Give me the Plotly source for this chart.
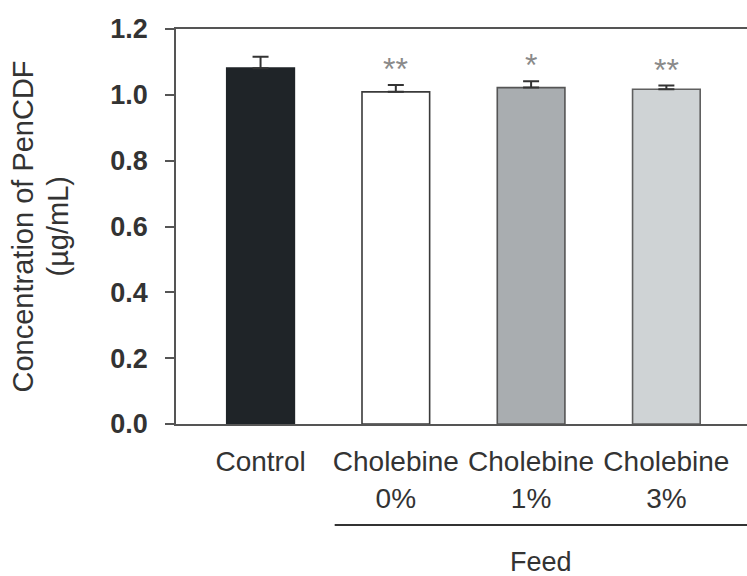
import plotly.graph_objects as go

categories = ["Control", "Cholebine<br>0%", "Cholebine<br>1%", "Cholebine<br>3%"]
means = [1.081, 1.009, 1.022, 1.017]
errors = [0.035, 0.021, 0.019, 0.011]
stars = ["", "**", "*", "**"]
fill_colors = ["#1f2428", "#ffffff", "#a9adb0", "#cfd3d5"]
line_colors = ["#1f2428", "#3a3a3a", "#555555", "#5f5f5f"]
y_ticks = [0.0, 0.2, 0.4, 0.6, 0.8, 1.0, 1.2]

FONT = "Arial, Liberation Sans, sans-serif"
TXT = "#333333"

fig = go.Figure()
fig.add_trace(go.Bar(
    x=list(range(len(categories))),
    y=means,
    width=0.5,
    marker=dict(color=fill_colors, line=dict(color=line_colors, width=1.6)),
    error_y=dict(type="data", array=errors, arrayminus=[0] * len(errors),
                 symmetric=False, color="#333333", thickness=2, width=8),
    showlegend=False,
))

for i, (m, e, s) in enumerate(zip(means, errors, stars)):
    if s:
        fig.add_annotation(x=i, y=m + e, yref="y", xref="x", text=s,
                           showarrow=False, yanchor="bottom", yshift=-4,
                           font=dict(family=FONT, size=32, color="#8a8a8a"))

fig.update_layout(
    width=747, height=576,
    margin=dict(l=176, r=0, t=29, b=152),
    paper_bgcolor="white", plot_bgcolor="white",
    font=dict(family=FONT, color=TXT),
)

fig.update_xaxes(
    range=[-0.625, 3.596],
    tickmode="array", tickvals=list(range(len(categories))), ticktext=categories,
    tickfont=dict(family=FONT, size=28, color=TXT),
    showline=True, linecolor="#555555", linewidth=1.5, mirror=True,
    ticks="", showgrid=False, zeroline=False,
    ticklabelstandoff=12,
)
fig.update_yaxes(
    range=[0, 1.2],
    tickmode="array", tickvals=y_ticks, ticktext=[f"<b>{v:.1f}</b>" for v in y_ticks],
    tickfont=dict(family=FONT, size=27, color=TXT),
    showline=True, linecolor="#555555", linewidth=1.5, mirror=False,
    ticks="outside", ticklen=9, tickcolor="#555555", tickwidth=1.5,
    showgrid=False, zeroline=False,
    ticklabelstandoff=12,
)

# y-axis title, two rotated lines
fig.add_annotation(
    x=-0.268, xref="paper", y=0.5, yref="paper",
    text="Concentration of PenCDF", textangle=-90,
    showarrow=False, xanchor="center", yanchor="middle",
    font=dict(family=FONT, size=29, color=TXT),
)
fig.add_annotation(
    x=-0.2084, xref="paper", y=0.5, yref="paper",
    text="(µg/mL)", textangle=-90,
    showarrow=False, xanchor="center", yanchor="middle",
    font=dict(family=FONT, size=29, color=TXT),
)

fig.add_shape(type="line", xref="x", yref="paper",
              x0=0.548, x1=3.596, y0=-0.2557, y1=-0.2557,
              line=dict(color="#333333", width=2))
fig.add_annotation(x=2.073, xref="x", y=-0.349, yref="paper", text="Feed",
                   showarrow=False, xanchor="center", yanchor="middle",
                   font=dict(family=FONT, size=27, color=TXT))

fig.write_html("out.html")
